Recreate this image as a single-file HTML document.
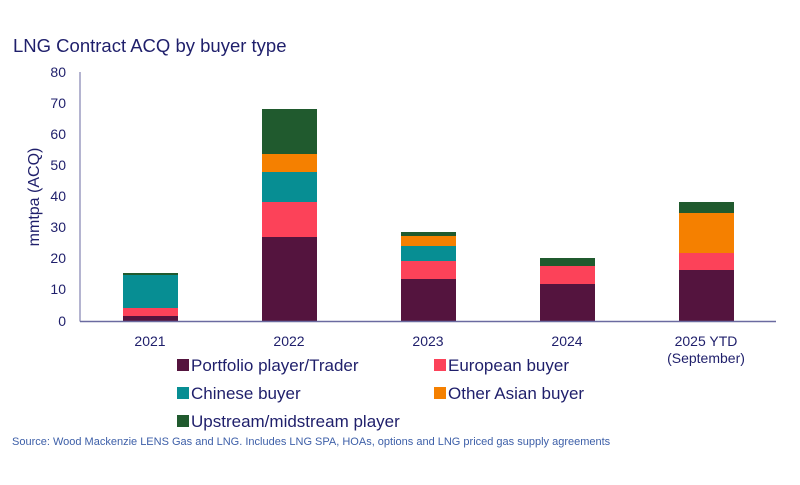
<!DOCTYPE html>
<html><head><meta charset="utf-8"><style>
body{margin:0;background:#fff;width:800px;height:480px;overflow:hidden}
svg text{font-family:"Liberation Sans",sans-serif;fill:#1f1f6b}
</style></head><body>
<svg width="800" height="480" xmlns="http://www.w3.org/2000/svg">
<text x="13" y="52" font-size="18.5">LNG Contract ACQ by buyer type</text>
<g font-size="14" text-anchor="end">
<text x="66" y="77">80</text><text x="66" y="108">70</text><text x="66" y="139">60</text><text x="66" y="170">50</text><text x="66" y="201">40</text><text x="66" y="232">30</text><text x="66" y="263">20</text><text x="66" y="294">10</text><text x="66" y="326">0</text>
</g>
<text transform="translate(39,197) rotate(-90)" font-size="16" text-anchor="middle">mmtpa (ACQ)</text>
<rect x="123" y="316" width="55" height="5" fill="#54143e"/>
<rect x="123" y="308" width="55" height="8" fill="#fc4259"/>
<rect x="123" y="275" width="55" height="33" fill="#078e93"/>
<rect x="123" y="273" width="55" height="2" fill="#205a2e"/>
<rect x="262" y="237" width="55" height="84" fill="#54143e"/>
<rect x="262" y="202" width="55" height="35" fill="#fc4259"/>
<rect x="262" y="172" width="55" height="30" fill="#078e93"/>
<rect x="262" y="154" width="55" height="18" fill="#f58000"/>
<rect x="262" y="109" width="55" height="45" fill="#205a2e"/>
<rect x="401" y="279" width="55" height="42" fill="#54143e"/>
<rect x="401" y="261" width="55" height="18" fill="#fc4259"/>
<rect x="401" y="246" width="55" height="15" fill="#078e93"/>
<rect x="401" y="236" width="55" height="10" fill="#f58000"/>
<rect x="401" y="232" width="55" height="4" fill="#205a2e"/>
<rect x="540" y="284" width="55" height="37" fill="#54143e"/>
<rect x="540" y="266" width="55" height="18" fill="#fc4259"/>
<rect x="540" y="258" width="55" height="8" fill="#205a2e"/>
<rect x="679" y="270" width="55" height="51" fill="#54143e"/>
<rect x="679" y="253" width="55" height="17" fill="#fc4259"/>
<rect x="679" y="213" width="55" height="40" fill="#f58000"/>
<rect x="679" y="202" width="55" height="11" fill="#205a2e"/>
<line x1="80" y1="72" x2="80" y2="321.5" stroke="#6a6aa0" stroke-width="1"/>
<line x1="80" y1="321.5" x2="776" y2="321.5" stroke="#6a6aa0" stroke-width="1.5"/>
<g font-size="14" text-anchor="middle">
<text x="150" y="346">2021</text><text x="289" y="346">2022</text><text x="428" y="346">2023</text><text x="567" y="346">2024</text><text x="706" y="346">2025 YTD</text><text x="706" y="363">(September)</text>
</g>
<g font-size="17">
<rect x="177" y="359" width="12" height="12" fill="#54143e"/><text x="191" y="371">Portfolio player/Trader</text>
<rect x="177" y="387" width="12" height="12" fill="#078e93"/><text x="191" y="399">Chinese buyer</text>
<rect x="177" y="415" width="12" height="12" fill="#205a2e"/><text x="191" y="427">Upstream/midstream player</text>
<rect x="434" y="359" width="12" height="12" fill="#fc4259"/><text x="448" y="371">European buyer</text>
<rect x="434" y="387" width="12" height="12" fill="#f58000"/><text x="448" y="399">Other Asian buyer</text>
</g>
<text x="12" y="445" font-size="11" style="fill:#3d5fa8">Source: Wood Mackenzie LENS Gas and LNG. Includes LNG SPA, HOAs, options and LNG priced gas supply agreements</text>
</svg>
</body></html>
